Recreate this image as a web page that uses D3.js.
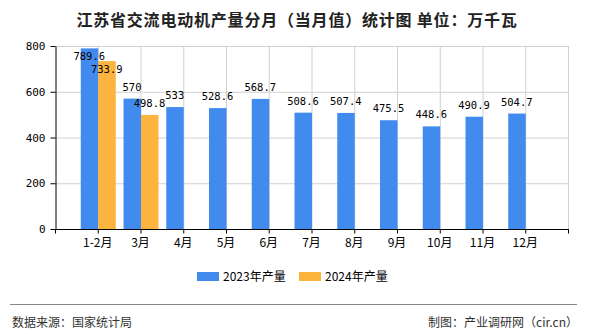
<!DOCTYPE html>
<html><head><meta charset="utf-8">
<script src="https://cdn.jsdelivr.net/npm/d3@7"></script>
<style>body{margin:0;background:#fff}svg{display:block}</style>
</head><body>
<svg id="c" width="590" height="330"></svg>
<script>
const categories = ["1-2月","3月","4月","5月","6月","7月","8月","9月","10月","11月","12月"];
const series2023 = [789.6,570,533,528.6,568.7,508.6,507.4,475.5,448.6,490.9,504.7];
const series2024 = [733.9,498.8,null,null,null,null,null,null,null,null,null];
const yTicks = [0,200,400,600,800];
const seriesNames = ["2023年产量","2024年产量"];
const colors = ["#428BEE","#FCB43F"];

const svg = d3.select("#c");
const L=55,R=568,T=46,B=229;
const x = d3.scalePoint().domain(categories).range([L,R]).padding(1);
const y = d3.scaleLinear().domain([0,800]).range([B,T]);
const bw = 17;
const cjk = "'Noto Sans CJK SC','Noto Sans',sans-serif";
const mono = "'DejaVu Sans Mono',monospace";

svg.append("text").attr("x",297).attr("y",26).attr("text-anchor","middle")
  .attr("font-family",cjk).attr("font-size",16).attr("font-weight","bold").attr("fill","#222")
  .attr("letter-spacing","0.8px")
  .text("江苏省交流电动机产量分月（当月值）统计图 单位：万千瓦");

// grid
const g = svg.append("g");
g.selectAll(".hg").data(yTicks.filter(d=>d>0)).join("line")
  .attr("x1",L).attr("x2",R).attr("y1",d=>y(d)+0.5).attr("y2",d=>y(d)+0.5)
  .attr("stroke","#d0d0d0");
g.selectAll(".vg").data(categories).join("line")
  .attr("x1",d=>x(d)+0.5).attr("x2",d=>x(d)+0.5).attr("y1",T).attr("y2",B)
  .attr("stroke","#d0d0d0");
g.append("line").attr("x1",R+0.5).attr("x2",R+0.5).attr("y1",T).attr("y2",B).attr("stroke","#d0d0d0");

// bars
const data = [];
categories.forEach((c,i)=>{
  data.push({c,v:series2023[i],s:0});
  if(series2024[i]!=null) data.push({c,v:series2024[i],s:1});
});
svg.selectAll(".bar").data(data).join("rect")
  .attr("x",d=>d.s===0? x(d.c)-bw : x(d.c)+0.5)
  .attr("width",bw+0.5)
  .attr("y",d=>y(d.v)).attr("height",d=>B-y(d.v))
  .attr("fill",d=>colors[d.s]);

// axes
const ya = svg.append("g").attr("transform",`translate(${L+0.5},0)`)
  .call(d3.axisLeft(y).tickValues(yTicks).tickSize(5).tickSizeOuter(0));
ya.select(".domain").attr("stroke","#000");
ya.selectAll("line").attr("stroke","#000");
ya.selectAll("text").attr("font-family",mono).attr("font-size",11).attr("fill","#000").attr("dx",-2);

const xa = svg.append("g").attr("transform",`translate(0,${B+0.5})`);
xa.append("line").attr("x1",L).attr("x2",R+1).attr("stroke","#000");
xa.selectAll(".t").data([L,...categories.map(c=>x(c)),R]).join("line")
  .attr("x1",d=>d+0.5).attr("x2",d=>d+0.5).attr("y1",0).attr("y2",4).attr("stroke","#000");
xa.selectAll(".lab").data(categories).join("text")
  .attr("x",d=>x(d)).attr("y",17).attr("text-anchor","middle")
  .attr("font-family",cjk).attr("font-size",12).attr("fill","#000").text(d=>d);

// labels
svg.selectAll(".vl").data(data).join("text")
  .attr("x",d=>(d.s===0? x(d.c)-bw/2 : x(d.c)+bw/2+0.5))
  .attr("y",d=>{const t=y(d.v); return (t-16<T)? t+12 : t-8;})
  .attr("text-anchor","middle").attr("font-family",mono).attr("font-size",10.5).attr("fill","#000")
  .text(d=>d.v);

// legend
const lg = svg.append("g");
const lx=[197,299];
seriesNames.forEach((n,i)=>{
  lg.append("rect").attr("x",lx[i]).attr("y",272).attr("width",22).attr("height",9).attr("fill",colors[i]);
  lg.append("text").attr("x",lx[i]+26).attr("y",281).attr("font-family",cjk).attr("font-size",12).attr("fill","#000").text(n);
});

// footer
svg.append("line").attr("x1",10).attr("x2",577).attr("y1",304.5).attr("y2",304.5).attr("stroke","#888").attr("stroke-width",1);
svg.append("text").attr("x",12).attr("y",327).attr("font-family",cjk).attr("font-size",12).attr("fill","#333").text("数据来源：国家统计局");
svg.append("text").attr("x",578).attr("y",327).attr("text-anchor","end").attr("font-family",cjk).attr("font-size",12).attr("fill","#333").text("制图：产业调研网（cir.cn）");
</script>
</body></html>
